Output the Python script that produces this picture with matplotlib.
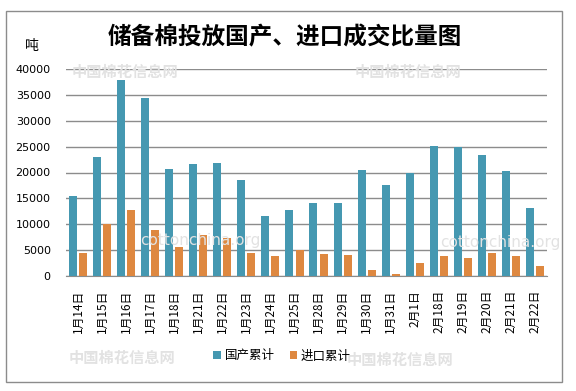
import numpy as np
import matplotlib.pyplot as plt
from matplotlib.patches import Rectangle

plt.rcParams['font.family'] = ['Noto Sans CJK SC', 'DejaVu Sans']

dates = ['1月14日', '1月15日', '1月16日', '1月17日', '1月18日', '1月21日', '1月22日',
         '1月23日', '1月24日', '1月25日', '1月28日', '1月29日', '1月30日', '1月31日',
         '2月1日', '2月18日', '2月19日', '2月20日', '2月21日', '2月22日']
domestic = [15400, 22900, 37800, 34300, 20600, 21700, 21900, 18500, 11500, 12700,
            14200, 14200, 20400, 17500, 19900, 25200, 24900, 23300, 20200, 13100]
imported = [4400, 10000, 12700, 8800, 5600, 7900, 7300, 4400, 3800, 5000,
            4200, 4000, 1200, 400, 2500, 3800, 3500, 4400, 3800, 1900]

blue = '#4598B1'
orange = '#DE8840'

fig = plt.figure(figsize=(5.76, 3.91), dpi=100)
fig.patch.set_facecolor('white')

# outer chart frame
fig.add_artist(Rectangle((6/576, 1-382/391), 556/576, 371/391, transform=fig.transFigure,
                         fill=False, edgecolor='#8c8c8c', linewidth=1.0))

# faint watermarks
wm = dict(color='#e2e2e2', fontsize=11, fontweight='bold', ha='center', va='center', zorder=0)
fig.text(125/576, 1-72/391, '中国棉花信息网', **wm)
fig.text(408/576, 1-72/391, '中国棉花信息网', **wm)
fig.text(122/576, 1-358/391, '中国棉花信息网', **wm)
fig.text(400/576, 1-360/391, '中国棉花信息网', **wm)
fig.text(200/576, 1-240/391, 'cottonchina.org', color='#e2e2e2', fontsize=11,
         ha='center', va='center', zorder=0, family='DejaVu Sans')
fig.text(500/576, 1-242/391, 'cottonchina.org', color='#e2e2e2', fontsize=11,
         ha='center', va='center', zorder=0, family='DejaVu Sans')

ax = fig.add_axes([66/576, 1-276/391, 481/576, 207/391])
ax.patch.set_alpha(0)

x = np.arange(len(dates))
w = 0.333
ax.bar(x - 0.21, domestic, w, color=blue, label='国产累计', zorder=3)
ax.bar(x + 0.21, imported, w, color=orange, label='进口累计', zorder=3)

ax.set_xlim(-0.5, len(dates) - 0.5)
ax.set_ylim(0, 40000)
ax.set_yticks(np.arange(0, 40001, 5000))
ax.yaxis.grid(True, color='#8c8c8c', linewidth=1.0, zorder=1)
ax.set_axisbelow(True)
for s in ['top', 'right', 'left']:
    ax.spines[s].set_visible(False)
ax.spines['bottom'].set_color('#8c8c8c')
ax.tick_params(axis='y', length=0, pad=11, labelsize=8)
ax.tick_params(axis='x', length=0, pad=10, labelsize=8.5)
for lab in ax.get_yticklabels():
    lab.set_family('DejaVu Sans')
ax.set_xticks(x)
ax.set_xticklabels(dates, rotation=90, va='top')

fig.text(285/576, 1-37/391, '储备棉投放国产、进口成交比量图', fontsize=17, fontweight='bold',
         ha='center', va='center')
fig.text(32/576, 1-46/391, '吨', fontsize=10, ha='center', va='center')

fig.legend(loc='center', bbox_to_anchor=(282/576, 1-356/391), ncol=2, frameon=False,
           fontsize=9, handlelength=0.6, handleheight=0.6, handletextpad=0.3,
           columnspacing=1.2)

plt.savefig('out.png', dpi=100)
